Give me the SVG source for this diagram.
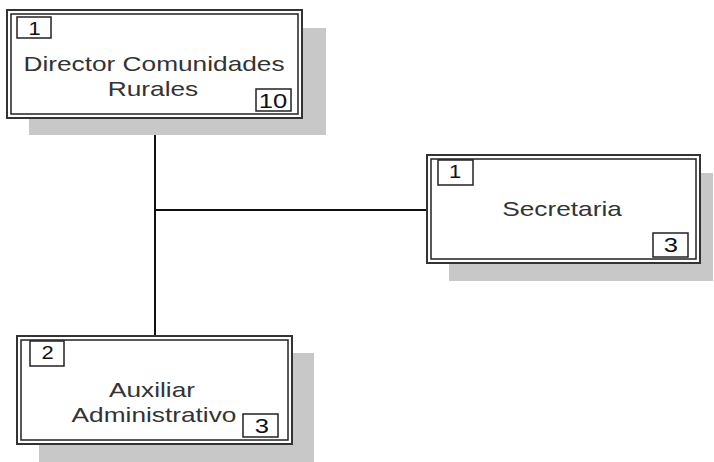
<svg xmlns="http://www.w3.org/2000/svg" width="714" height="462" viewBox="0 0 714 462">
<style>
.sh{fill:#c8c8c8;stroke:none}
.ob{fill:#fff;stroke:#333;stroke-width:2}
.ib{fill:#fff;stroke:#222;stroke-width:1.5}
.nb{fill:#fff;stroke:#222;stroke-width:1.5}
.t{font-family:"Liberation Sans",Arial,sans-serif;font-size:21px;fill:#333;text-anchor:middle}
.n{font-family:"Liberation Sans",Arial,sans-serif;font-size:18px;fill:#111;text-anchor:middle}
.m{font-family:"Liberation Sans",Arial,sans-serif;font-size:21px;fill:#111;text-anchor:middle}
.c{stroke:#111;stroke-width:2;fill:none}
</style>
<rect width="714" height="462" fill="#fff"/>
<g id="connectors">
<line class="c" x1="155" y1="118" x2="155" y2="336"/>
<line class="c" x1="155" y1="210" x2="428" y2="210"/>
</g>
<g id="director">
<rect class="sh" x="29" y="28" width="297" height="107"/>
<rect class="ob" x="7" y="10" width="295" height="108"/>
<rect class="ib" x="11" y="14" width="287" height="100"/>
<rect class="nb" x="17" y="17" width="34" height="21"/>
<text class="n" transform="translate(34.5,35) scale(1.22,1)">1</text>
<rect class="nb" x="256" y="89" width="35" height="22"/>
<text class="m" transform="translate(273,108) scale(1.22,1)">10</text>
<text class="t" transform="translate(154,71) scale(1.25,1)">Director Comunidades</text>
<text class="t" transform="translate(153,96) scale(1.25,1)">Rurales</text>
</g>
<g id="secretaria">
<rect class="sh" x="449" y="173" width="264" height="108"/>
<rect class="ob" x="427" y="155" width="273" height="108"/>
<rect class="ib" x="431" y="159" width="265" height="100"/>
<rect class="nb" x="438" y="160" width="35" height="25"/>
<text class="n" transform="translate(455,178) scale(1.22,1)">1</text>
<rect class="nb" x="653" y="233" width="35" height="24"/>
<text class="m" transform="translate(671,252) scale(1.22,1)">3</text>
<text class="t" transform="translate(562,216) scale(1.25,1)">Secretaria</text>
</g>
<g id="auxiliar">
<rect class="sh" x="39" y="353" width="275" height="109"/>
<rect class="ob" x="17" y="336" width="275" height="108"/>
<rect class="ib" x="21" y="340" width="267" height="100"/>
<rect class="nb" x="30" y="341" width="34" height="25"/>
<text class="n" transform="translate(47.5,359) scale(1.22,1)">2</text>
<rect class="nb" x="243" y="414" width="35" height="23"/>
<text class="m" transform="translate(262,433) scale(1.22,1)">3</text>
<text class="t" transform="translate(152,397) scale(1.25,1)">Auxiliar</text>
<text class="t" transform="translate(154,422) scale(1.25,1)">Administrativo</text>
</g>
</svg>
